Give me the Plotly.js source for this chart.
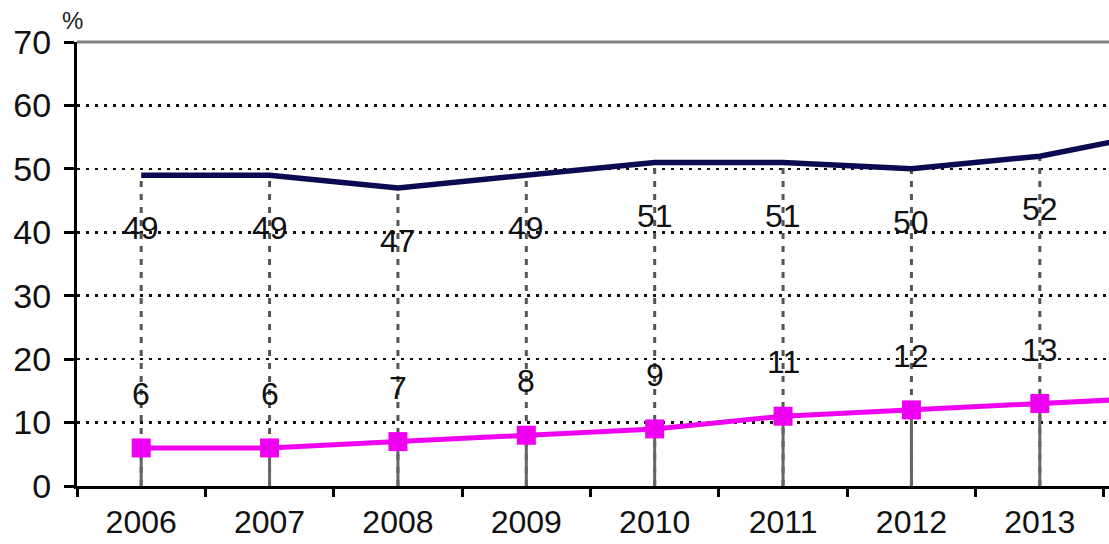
<!DOCTYPE html>
<html>
<head>
<meta charset="utf-8">
<script src="https://cdn.plot.ly/plotly-3.0.1.min.js"></script>
<style>
  html, body { margin: 0; padding: 0; background: #fff; overflow: hidden; }
  #chart { width: 1109px; height: 544px; }
</style>
</head>
<body>
<div id="chart"></div>
<script>
// Yearly shares, in percent
const years = ['2006', '2007', '2008', '2009', '2010', '2011', '2012', '2013', '2014'];
const upperSeries = [49, 49, 47, 49, 51, 51, 50, 52, 56];
const lowerSeries = [6, 6, 7, 8, 9, 11, 12, 13, 14];
const yTicks = [0, 10, 20, 30, 40, 50, 60, 70];

const font = 'Liberation Sans, Arial, sans-serif';
const navy = '#0b0b52';
const magenta = '#f000f0';
const W = 1109, H = 544;
const M = { l: 77, r: 0, t: 42, b: 58 };

// vertical drop lines from the axis up to each point
function dropLines(values) {
  const xs = [], ys = [];
  values.forEach((v, i) => { xs.push(i, i, null); ys.push(0, v, null); });
  return { xs, ys };
}
const upperDrops = dropLines(upperSeries);
const lowerDrops = dropLines(lowerSeries);
const idx = years.map((_, i) => i);

const traces = [
  {
    x: upperDrops.xs, y: upperDrops.ys, mode: 'lines', hoverinfo: 'skip',
    line: { color: '#555', width: 3, dash: '6px,7px' }, connectgaps: false
  },
  {
    x: lowerDrops.xs, y: lowerDrops.ys, mode: 'lines', hoverinfo: 'skip',
    line: { color: '#666', width: 3 }, connectgaps: false
  },
  {
    x: idx, y: upperSeries, mode: 'lines',
    line: { color: navy, width: 5.5 }
  },
  {
    x: idx, y: lowerSeries, mode: 'lines+markers',
    line: { color: magenta, width: 5 },
    marker: { symbol: 'square', size: 19, color: magenta }
  }
];

// value labels: below the upper line, above the lower one
const labelFont = { family: font, size: 32, color: '#111' };
const annotations = [];
idx.slice(0, 8).forEach(i => {
  annotations.push({
    x: i, y: upperSeries[i], xref: 'x', yref: 'y', text: String(upperSeries[i]),
    showarrow: false, yshift: -53, font: labelFont
  });
  annotations.push({
    x: i, y: lowerSeries[i], xref: 'x', yref: 'y', text: String(lowerSeries[i]),
    showarrow: false, yshift: 54, font: labelFont
  });
});
const plotW = W - M.l - M.r, plotH = H - M.t - M.b;
annotations.push({
  x: (60 - M.l) / plotW, y: 1 + (M.t - 5) / plotH, xref: 'paper', yref: 'paper', text: '%',
  xanchor: 'left', yanchor: 'top', showarrow: false,
  font: { family: font, size: 24, color: '#222' }
});

const layout = {
  width: W, height: H,
  margin: M,
  paper_bgcolor: '#fff', plot_bgcolor: '#fff',
  showlegend: false,
  xaxis: {
    type: 'linear',
    range: [-0.5, 7.539], fixedrange: true,
    tickvals: idx, ticktext: years,
    showgrid: false, zeroline: false,
    showline: true, linecolor: '#000', linewidth: 3,
    ticks: '', ticklabelstandoff: 6,
    tickfont: { family: font, size: 32, color: '#111' }
  },
  // a twin axis carries the tick marks on the category boundaries
  xaxis2: {
    overlaying: 'x', matches: 'x', anchor: 'y', side: 'bottom',
    range: [-0.5, 7.539], fixedrange: true,
    tickvals: idx.map(i => i - 0.5), showticklabels: false,
    showgrid: false, zeroline: false, showline: false,
    ticks: 'outside', ticklen: 10, tickwidth: 3, tickcolor: '#000'
  },
  yaxis: {
    range: [0, 70], tickvals: yTicks, fixedrange: true,
    showgrid: true, gridcolor: '#111', gridwidth: 2.5, griddash: '3px,6px',
    zeroline: false,
    showline: true, linecolor: '#000', linewidth: 3,
    ticks: 'outside', ticklen: 10, tickwidth: 3, tickcolor: '#000',
    ticklabelstandoff: 6,
    tickfont: { family: font, size: 34, color: '#111' }
  },
  shapes: [
    { type: 'line', xref: 'paper', yref: 'paper', x0: 0, x1: 1, y0: 1, y1: 1,
      line: { color: '#808080', width: 3 } }
  ],
  annotations: annotations
};

// an empty trace so the twin axis is drawn
traces.push({ x: [0], y: [null], xaxis: 'x2', mode: 'lines', hoverinfo: 'skip' });

Plotly.newPlot('chart', traces, layout, { displayModeBar: false, staticPlot: true });
</script>
</body>
</html>
